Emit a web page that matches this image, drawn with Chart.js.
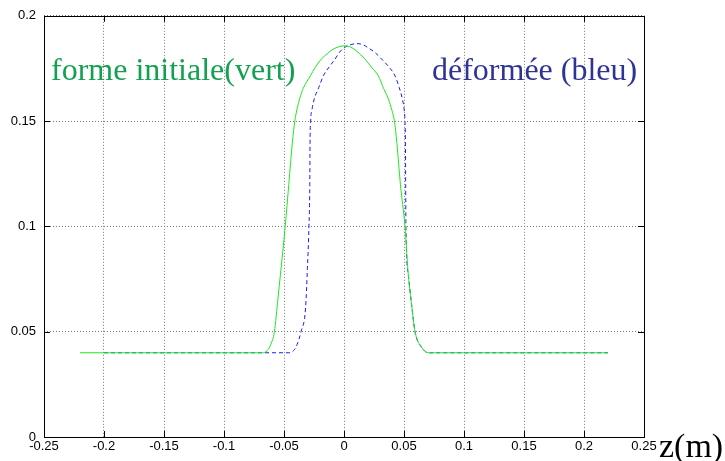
<!DOCTYPE html>
<html>
<head>
<meta charset="utf-8">
<script src="https://cdn.jsdelivr.net/npm/chart.js@4"></script>
<style>
  html, body { margin: 0; padding: 0; background: #fff; }
  #wrap { position: relative; width: 725px; height: 461px; }
</style>
</head>
<body>
<div id="wrap"><canvas id="myChart" width="725" height="461"></canvas></div>
<script>
// initial shape (green) : z (m) and radius
var greenZ = [-0.22, -0.068, -0.064, -0.061, -0.058, -0.055, -0.053, -0.049, -0.046, -0.043, -0.041,
  -0.037, -0.034, -0.028, -0.024, -0.019, -0.014, -0.010, -0.005, 0, 0.005, 0.010, 0.0175, 0.023,
  0.0286, 0.033, 0.037, 0.040, 0.042, 0.044, 0.047, 0.0508, 0.0536, 0.0565, 0.0592, 0.0647, 0.0703, 0.22];
var greenR = [0.04, 0.04, 0.041, 0.044, 0.05, 0.066, 0.077, 0.1, 0.12, 0.14, 0.15,
  0.1605, 0.1655, 0.1715, 0.1755, 0.1794, 0.182, 0.1838, 0.1852, 0.1857, 0.1853, 0.1835, 0.1794, 0.1755,
  0.1715, 0.1655, 0.1605, 0.155, 0.15, 0.14, 0.12, 0.1, 0.077, 0.062, 0.05, 0.0426, 0.04, 0.04];

// deformed shape (blue)
var blueZ = [-0.2, -0.046, -0.042, -0.039, -0.0358, -0.032, -0.0305, -0.0292, -0.0285, -0.0283, -0.0278,
  -0.0265, -0.0248, -0.021, -0.0172, -0.012, -0.0075, -0.004, 0.0003, 0.005, 0.0106, 0.016, 0.021, 0.026,
  0.0314, 0.037, 0.0425, 0.046, 0.0486, 0.050, 0.0508, 0.0512, 0.0514, 0.0516,
  0.0536, 0.0565, 0.0592, 0.0647, 0.0703, 0.22];
var blueR = [0.04, 0.04, 0.041, 0.044, 0.05, 0.0615, 0.08, 0.1, 0.12, 0.14, 0.15,
  0.156, 0.1605, 0.166, 0.1715, 0.176, 0.1794, 0.1825, 0.1849, 0.1862, 0.1868, 0.1862, 0.1845, 0.1825,
  0.1794, 0.176, 0.1715, 0.166, 0.1605, 0.156, 0.15, 0.14, 0.12, 0.1,
  0.077, 0.062, 0.05, 0.0426, 0.04, 0.04];

var labelGreen = "forme initiale(vert)";
var labelBlue = "déformée (bleu)";
var axisLabel = "z(m)";

function toPoints(xs, ys) {
  return xs.map((x, i) => ({ x: x, y: ys[i] }));
}

function fmt(v) {
  return String(Number(v.toFixed(2)));
}

// box + inward tick marks + texts
const framePlugin = {
  id: "frame",
  afterDraw(chart) {
    const c = chart.ctx;
    const a = chart.chartArea;
    const xs = chart.scales.x, ys = chart.scales.y;
    c.save();
    c.strokeStyle = "#000";
    c.lineWidth = 1;
    c.strokeRect(Math.round(a.left) + 0.5, Math.round(a.top) + 0.5, Math.round(a.right - a.left), Math.round(a.bottom - a.top));
    c.beginPath();
    xs.ticks.forEach((t) => {
      var px = Math.round(xs.getPixelForValue(t.value)) + 0.5;
      c.moveTo(px, a.bottom); c.lineTo(px, a.bottom - 6);
      c.moveTo(px, a.top); c.lineTo(px, a.top + 6);
    });
    ys.ticks.forEach((t) => {
      var py = Math.round(ys.getPixelForValue(t.value)) + 0.5;
      c.moveTo(a.left, py); c.lineTo(a.left + 6, py);
      c.moveTo(a.right, py); c.lineTo(a.right - 6, py);
    });
    c.stroke();

    c.font = "32px 'Liberation Serif'";
    c.textBaseline = "alphabetic";
    c.fillStyle = "#12a150";
    c.textAlign = "left";
    c.fillText(labelGreen, 51, 80);
    c.fillStyle = "#2f3396";
    c.fillText(labelBlue, 432, 80);
    c.fillStyle = "#000";
    c.font = "34px 'Liberation Serif'";
    c.fillText(axisLabel, 659, 457);
    c.restore();
  }
};

const canvas = document.getElementById("myChart");
const ctx = canvas.getContext("2d");

new Chart(ctx, {
  type: "scatter",
  data: {
    datasets: [
      {
        label: labelGreen,
        data: toPoints(greenZ, greenR),
        showLine: true,
        borderColor: "#1fe81f",
        borderWidth: 1,
        pointRadius: 0,
        cubicInterpolationMode: "monotone"
      },
      {
        label: labelBlue,
        data: toPoints(blueZ, blueR),
        showLine: true,
        borderColor: "#1a1aff",
        borderWidth: 1,
        borderDash: [4, 3],
        pointRadius: 0,
        cubicInterpolationMode: "monotone"
      }
    ]
  },
  options: {
    responsive: false,
    animation: false,
    layout: { padding: { left: 0, right: 81, top: 13, bottom: 0 } },
    plugins: { legend: { display: false }, tooltip: { enabled: false } },
    scales: {
      x: {
        type: "linear",
        min: -0.25,
        max: 0.25,
        afterFit: (s) => { s.height = 24; },
        ticks: {
          stepSize: 0.05,
          color: "#000",
          font: { family: "'Liberation Sans'", size: 13 },
          padding: 2,
          maxRotation: 0,
          callback: (v) => fmt(v)
        },
        grid: { color: "#777", drawTicks: false, lineWidth: 1 },
        border: { display: false, dash: [1, 2] }
      },
      y: {
        type: "linear",
        min: 0,
        max: 0.2,
        afterFit: (s) => { s.width = 44; },
        ticks: {
          stepSize: 0.05,
          color: "#000",
          font: { family: "'Liberation Sans'", size: 13 },
          padding: 8,
          callback: (v) => fmt(v)
        },
        grid: { color: "#777", drawTicks: false, lineWidth: 1 },
        border: { display: false, dash: [1, 2] }
      }
    }
  },
  plugins: [framePlugin]
});
</script>
</body>
</html>
